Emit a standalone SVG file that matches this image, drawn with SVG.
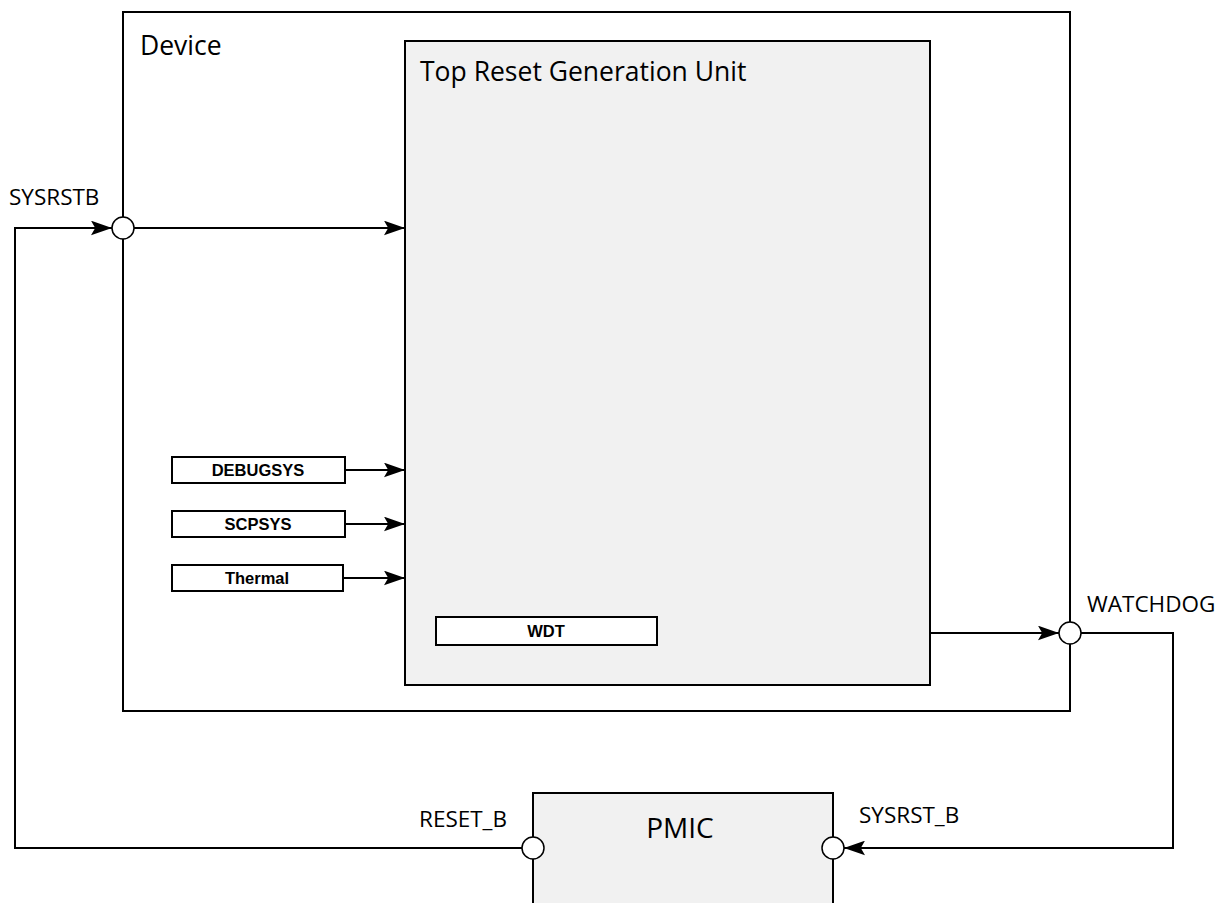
<svg xmlns="http://www.w3.org/2000/svg" width="1222" height="903" viewBox="0 0 1222 903">
<defs>
<marker id="arr" viewBox="0 0 20 14" refX="20" refY="7" markerWidth="21" markerHeight="15" markerUnits="userSpaceOnUse" orient="auto">
<path d="M0,0 L20,7 L0,14 L4,7 z" fill="#000"/>
</marker>
</defs>
<style>
.box{fill:#fff;stroke:#000;stroke-width:2}
.unit{fill:#f1f1f1;stroke:#000;stroke-width:2}
.sig{fill:#fff;stroke:#000;stroke-width:2}
.port{fill:#fff;stroke:#000;stroke-width:1.5}
.line{fill:none;stroke:#000;stroke-width:2}
.t{font-family:"Open Sans","Liberation Sans",sans-serif;fill:#000}
.big{font-size:26.5px}
.lab{font-size:22.5px}
.sm{font-family:"Liberation Sans",Arial,sans-serif;font-size:16.5px;font-weight:bold;text-anchor:middle;fill:#000}
</style>
<rect width="1222" height="903" fill="#fff"/>
<g id="device">
<rect class="box" x="123" y="12" width="947" height="699"/>
<text class="t big" x="140" y="55">Device</text>
</g>
<g id="trgu">
<rect class="unit" x="405" y="41" width="525" height="644"/>
<text class="t big" x="420" y="81">Top Reset Generation Unit</text>
</g>
<g id="debugsys">
<rect class="sig" x="172" y="457" width="173" height="26"/>
<text class="sm" x="258" y="476">DEBUGSYS</text>
</g>
<g id="scpsys">
<rect class="sig" x="172" y="511" width="173" height="26"/>
<text class="sm" x="258" y="530">SCPSYS</text>
</g>
<g id="thermal">
<rect class="sig" x="172" y="565" width="171" height="26"/>
<text class="sm" x="257" y="584">Thermal</text>
</g>
<g id="wdt">
<rect class="sig" x="436" y="617" width="221" height="28"/>
<text class="sm" x="546" y="637">WDT</text>
</g>
<g id="pmic">
<rect class="unit" x="533" y="793" width="300" height="112"/>
<text class="t" x="680" y="838" text-anchor="middle" style="font-size:28px">PMIC</text>
</g>
<g id="connectors">
<path class="line" d="M134,228 L405,228" marker-end="url(#arr)"/>
<path class="line" d="M345,470 L405,470" marker-end="url(#arr)"/>
<path class="line" d="M345,524 L405,524" marker-end="url(#arr)"/>
<path class="line" d="M343,578 L405,578" marker-end="url(#arr)"/>
<path class="line" d="M930,633 L1059,633" marker-end="url(#arr)"/>
<path class="line" d="M522,848 L15,848 L15,228 L112,228" marker-end="url(#arr)"/>
<path class="line" d="M1081,633 L1173,633 L1173,848 L844,848" marker-end="url(#arr)"/>
</g>
<g id="ports">
<circle class="port" cx="123" cy="228" r="11"/>
<circle class="port" cx="1070" cy="633" r="11"/>
<circle class="port" cx="533" cy="848" r="11"/>
<circle class="port" cx="833" cy="848" r="11"/>
<text class="t lab" x="9" y="205">SYSRSTB</text>
<text class="t lab" x="1087" y="612">WATCHDOG</text>
<text class="t lab" x="419" y="827">RESET_B</text>
<text class="t lab" x="859" y="823">SYSRST_B</text>
</g>
</svg>
